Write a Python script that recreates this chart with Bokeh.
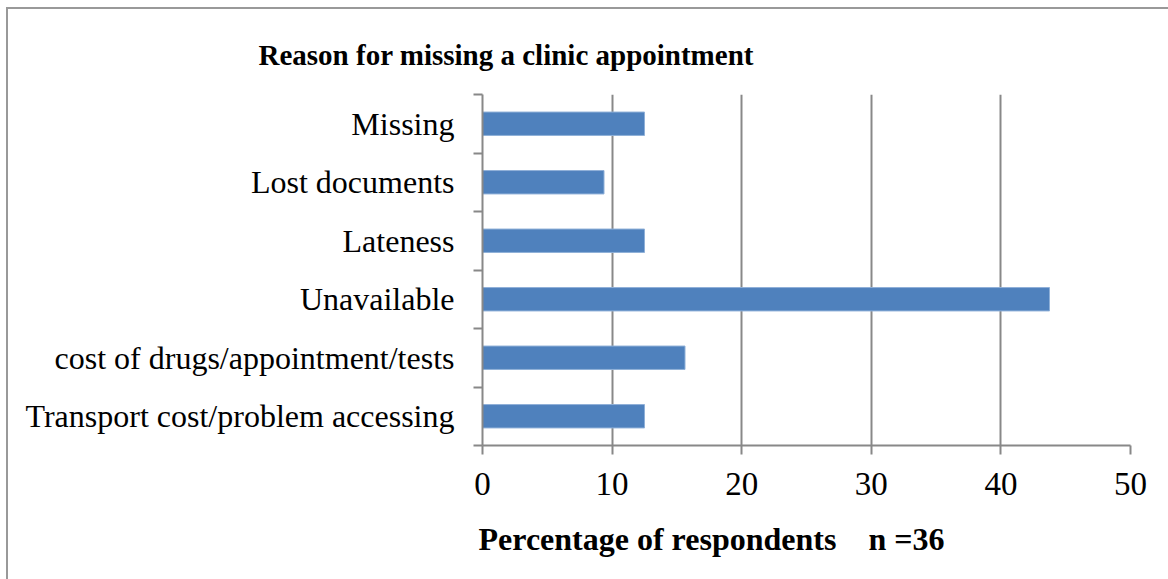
from bokeh.plotting import figure
from bokeh.models import FixedTicker, Range1d, Title
from bokeh.embed import file_html
from bokeh.resources import INLINE
import numpy as np

# Data (bottom to top)
categories = ["Transport cost/problem accessing", "cost of drugs/appointment/tests",
              "Unavailable", "Lateness", "Lost documents", "Missing"]
percentages = [12.5, 15.625, 43.75, 12.5, 9.375, 12.5]
x_ticks = [0, 10, 20, 30, 40, 50]
title_text = "Reason for missing a clinic appointment"
xlabel_text = "Percentage of respondents\u00a0\u00a0\u00a0\u00a0n =36"

SERIF = "Liberation Serif"
GRAY = "#888888"
BAR = "#4F81BD"

n = len(categories)
ypos = np.arange(n) + 0.5

p = figure(width=1168, height=579, output_backend="svg", toolbar_location=None,
           x_range=Range1d(0, 50), y_range=Range1d(0, n),
           min_border_left=482, min_border_right=38, min_border_top=94, min_border_bottom=134)
p.outline_line_color = None
p.background_fill_color = "white"
p.border_fill_color = None

p.hbar(y=ypos, right=percentages, left=0, height=0.4, fill_color=BAR, line_color="#8FB0D8", line_width=1)

# x axis
xa = p.xaxis[0]
xa.ticker = FixedTicker(ticks=x_ticks)
xa.axis_line_color = GRAY
xa.axis_line_width = 2
xa.major_tick_line_color = GRAY
xa.major_tick_line_width = 2
xa.major_tick_out = 9
xa.major_tick_in = 0
xa.minor_tick_line_color = None
xa.major_label_text_font = SERIF
xa.major_label_text_font_size = "33px"
xa.major_label_text_color = "black"
xa.major_label_standoff = 18

# y axis: labels at centres, ticks at boundaries
ya = p.yaxis[0]
ya.ticker = FixedTicker(ticks=list(ypos), minor_ticks=list(range(n + 1)))
ya.major_label_overrides = {float(y): c for y, c in zip(ypos, categories)}
ya.axis_line_color = GRAY
ya.axis_line_width = 2
ya.major_tick_line_color = None
ya.major_tick_out = 0
ya.minor_tick_line_color = GRAY
ya.minor_tick_line_width = 2
ya.minor_tick_out = 9
ya.minor_tick_in = 0
ya.major_label_text_font = SERIF
ya.major_label_text_font_size = "32px"
ya.major_label_text_color = "black"
ya.major_label_standoff = 19

p.ygrid.grid_line_color = None
p.xgrid.grid_line_color = GRAY
p.xgrid.grid_line_width = 2

p.title = Title(text=title_text, align="left", offset=-224, standoff=44, vertical_align="top",
                text_font=SERIF, text_font_style="bold", text_font_size="29px",
                text_color="black")
p.add_layout(Title(text=xlabel_text, align="left", offset=-4, standoff=42,
                   text_font=SERIF, text_font_style="bold", text_font_size="32px",
                   text_color="black"), "below")

p.styles = {"background": "linear-gradient(#999999,#999999) 6px 7px / 2px 100% no-repeat, "
                          "linear-gradient(#999999,#999999) 6px 7px / 100% 2px no-repeat, white"}

open("out.html", "w").write(file_html(p, INLINE))
